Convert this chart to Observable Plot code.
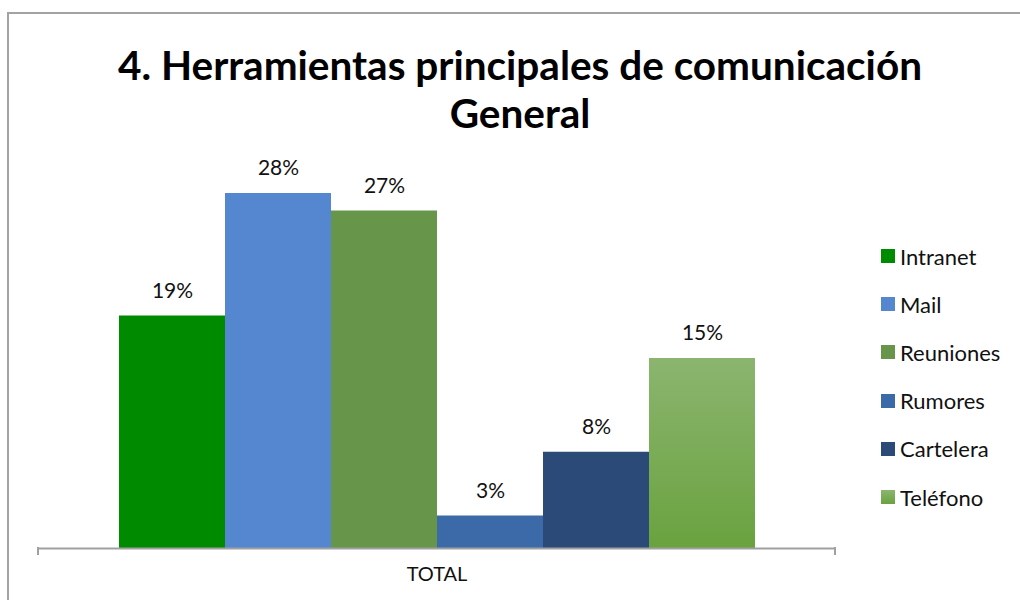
<!DOCTYPE html>
<html>
<head>
<meta charset="utf-8">
<script src="https://cdn.jsdelivr.net/npm/d3@7"></script>
<script src="https://cdn.jsdelivr.net/npm/@observablehq/plot@0.6"></script>
<style>
  html, body { margin: 0; padding: 0; background: #fff; overflow: hidden; }
  body { width: 1020px; height: 600px; position: relative; font-family: Lato, "Open Sans", sans-serif; }
  #frameTop { position: absolute; left: 7px; top: 12px; width: 1013px; height: 2px; background: #a3a3a3; }
  #frameLeft { position: absolute; left: 7px; top: 12px; width: 2px; height: 588px; background: #a3a3a3; }
  #title { position: absolute; left: 0; width: 1040px; top: 41px; text-align: center; font-weight: 700; font-size: 40.5px; line-height: 48px; color: #000; white-space: nowrap; }
  #chart { position: absolute; left: 0; top: 150px; }
  #legend { position: absolute; left: 881px; top: 232px; }
  .item { height: 48.2px; display: flex; align-items: center; font-size: 22px; color: #111; white-space: nowrap; }
  .sw { width: 14px; height: 14px; margin-right: 5px; flex: none; }
</style>
</head>
<body>
<div id="frameTop"></div>
<div id="frameLeft"></div>
<div id="title">4. Herramientas principales de comunicación<br>General</div>
<div id="chart"></div>
<div id="legend"></div>
<script>
const series = ["Intranet", "Mail", "Reuniones", "Rumores", "Cartelera", "Teléfono"];
const values = [18.6, 28.4, 27.0, 2.6, 7.7, 15.2];
const labels = ["19%", "28%", "27%", "3%", "8%", "15%"];
const category = ["TOTAL"];
const colors = ["#008a00", "#5587d0", "#67954a", "#3c69a8", "#2b4a78", "url(#telGrad)"];
const legendCss = ["#008a00", "#5587d0", "#67954a", "#3c69a8", "#2b4a78", "linear-gradient(#8bb56f, #6aa23f)"];

const data = series.map((s, i) => ({series: s, value: values[i], label: labels[i]}));

const defs = () => {
  const d = d3.create("svg:defs");
  const g = d.append("linearGradient").attr("id", "telGrad")
    .attr("x1", 0).attr("y1", 0).attr("x2", 0).attr("y2", 1);
  g.append("stop").attr("offset", "0%").attr("stop-color", "#8bb56f");
  g.append("stop").attr("offset", "100%").attr("stop-color", "#6aa23f");
  return d.node();
};

const plot = Plot.plot({
  width: 1020,
  height: 450,
  marginTop: 23,
  marginBottom: 52,
  marginLeft: 38,
  marginRight: 185,
  x: {domain: series, paddingInner: 0, paddingOuter: 0.742, axis: null},
  y: {domain: [0, 30], axis: null},
  color: {domain: series, range: colors},
  style: {fontFamily: "Lato, 'Open Sans', sans-serif", background: "transparent", color: "#000"},
  marks: [
    defs,
    Plot.barY(data, {x: "series", y: "value", fill: "series"}),
    Plot.ruleY([0], {stroke: "#a0a0a0", strokeWidth: 2}),
    Plot.text(data, {x: "series", y: "value", text: "label", dy: -25, fontSize: 21, fill: "#111"}),
    Plot.text(category, {frameAnchor: "bottom", text: d => d, dy: 32, fontSize: 20, fill: "#111"})
  ]
});

// category-boundary ticks at the ends of the axis
const y0 = plot.scale("y").apply(0);
const sel = d3.select(plot);
[38, 1020 - 185].forEach(x => {
  sel.append("line").attr("x1", x).attr("x2", x).attr("y1", y0 - 1).attr("y2", y0 + 7)
    .attr("stroke", "#a0a0a0").attr("stroke-width", 2);
});

document.getElementById("chart").appendChild(plot);

const legend = d3.select("#legend");
series.forEach((s, i) => {
  const row = legend.append("div").attr("class", "item");
  row.append("div").attr("class", "sw").style("background", legendCss[i]);
  row.append("span").text(s);
});
</script>
</body>
</html>
